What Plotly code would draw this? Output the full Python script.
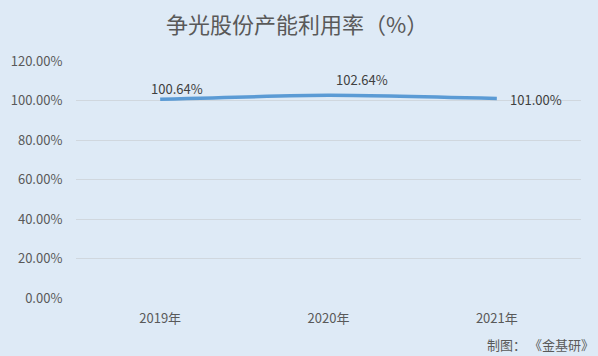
import plotly.graph_objects as go

years = ["2019年", "2020年", "2021年"]
utilization = [1.0064, 1.0264, 1.0100]
label_texts = ["100.64%", "102.64%", "101.00%"]
label_xshift = [17, 33, 39]
label_yshift = [11, 16, -1]

BG = "#DEEAF6"
FONT = "Noto Sans CJK SC, Liberation Sans, sans-serif"

fig = go.Figure()
fig.add_trace(go.Scatter(
    x=years, y=utilization, mode="lines",
    line=dict(color="#5B9BD5", width=3.5, shape="spline", smoothing=0.6),
    hoverinfo="skip", showlegend=False,
))

for x, y, t, xs, ys in zip(years, utilization, label_texts, label_xshift, label_yshift):
    fig.add_annotation(x=x, y=y, text=t, showarrow=False, xshift=xs, yshift=ys,
                       font=dict(size=13, color="#404040", family=FONT))

fig.add_annotation(xref="paper", yref="paper", x=1.029, y=-0.198, xanchor="right", yanchor="middle",
                   text="制图： 《金基研》", showarrow=False,
                   font=dict(size=13, color="#595959", family=FONT))

fig.update_layout(
    width=598, height=356,
    paper_bgcolor=BG, plot_bgcolor=BG,
    margin=dict(l=76, r=17, t=61, b=58),
    title=dict(text="争光股份产能利用率（%）", x=0.497, xanchor="center", y=0.93, yanchor="middle",
               font=dict(size=22, color="#595959", family=FONT)),
    xaxis=dict(range=[-0.5, 2.5], showgrid=False, zeroline=False, showline=False,
               ticks="outside", ticklen=8, tickcolor="rgba(0,0,0,0)",
               tickfont=dict(size=13, color="#595959", family=FONT)),
    yaxis=dict(range=[0, 1.2], tickvals=[0, 0.2, 0.4, 0.6, 0.8, 1.0, 1.2], tickformat=".2%",
               showgrid=True, gridcolor="#D0D7DE", gridwidth=1, zeroline=False,
               ticks="outside", ticklen=10, tickcolor="rgba(0,0,0,0)",
               tickfont=dict(size=13, color="#595959", family=FONT)),
)

fig.write_html("out.html", config={"displayModeBar": False},
               post_script="document.body.style.margin='0';")
